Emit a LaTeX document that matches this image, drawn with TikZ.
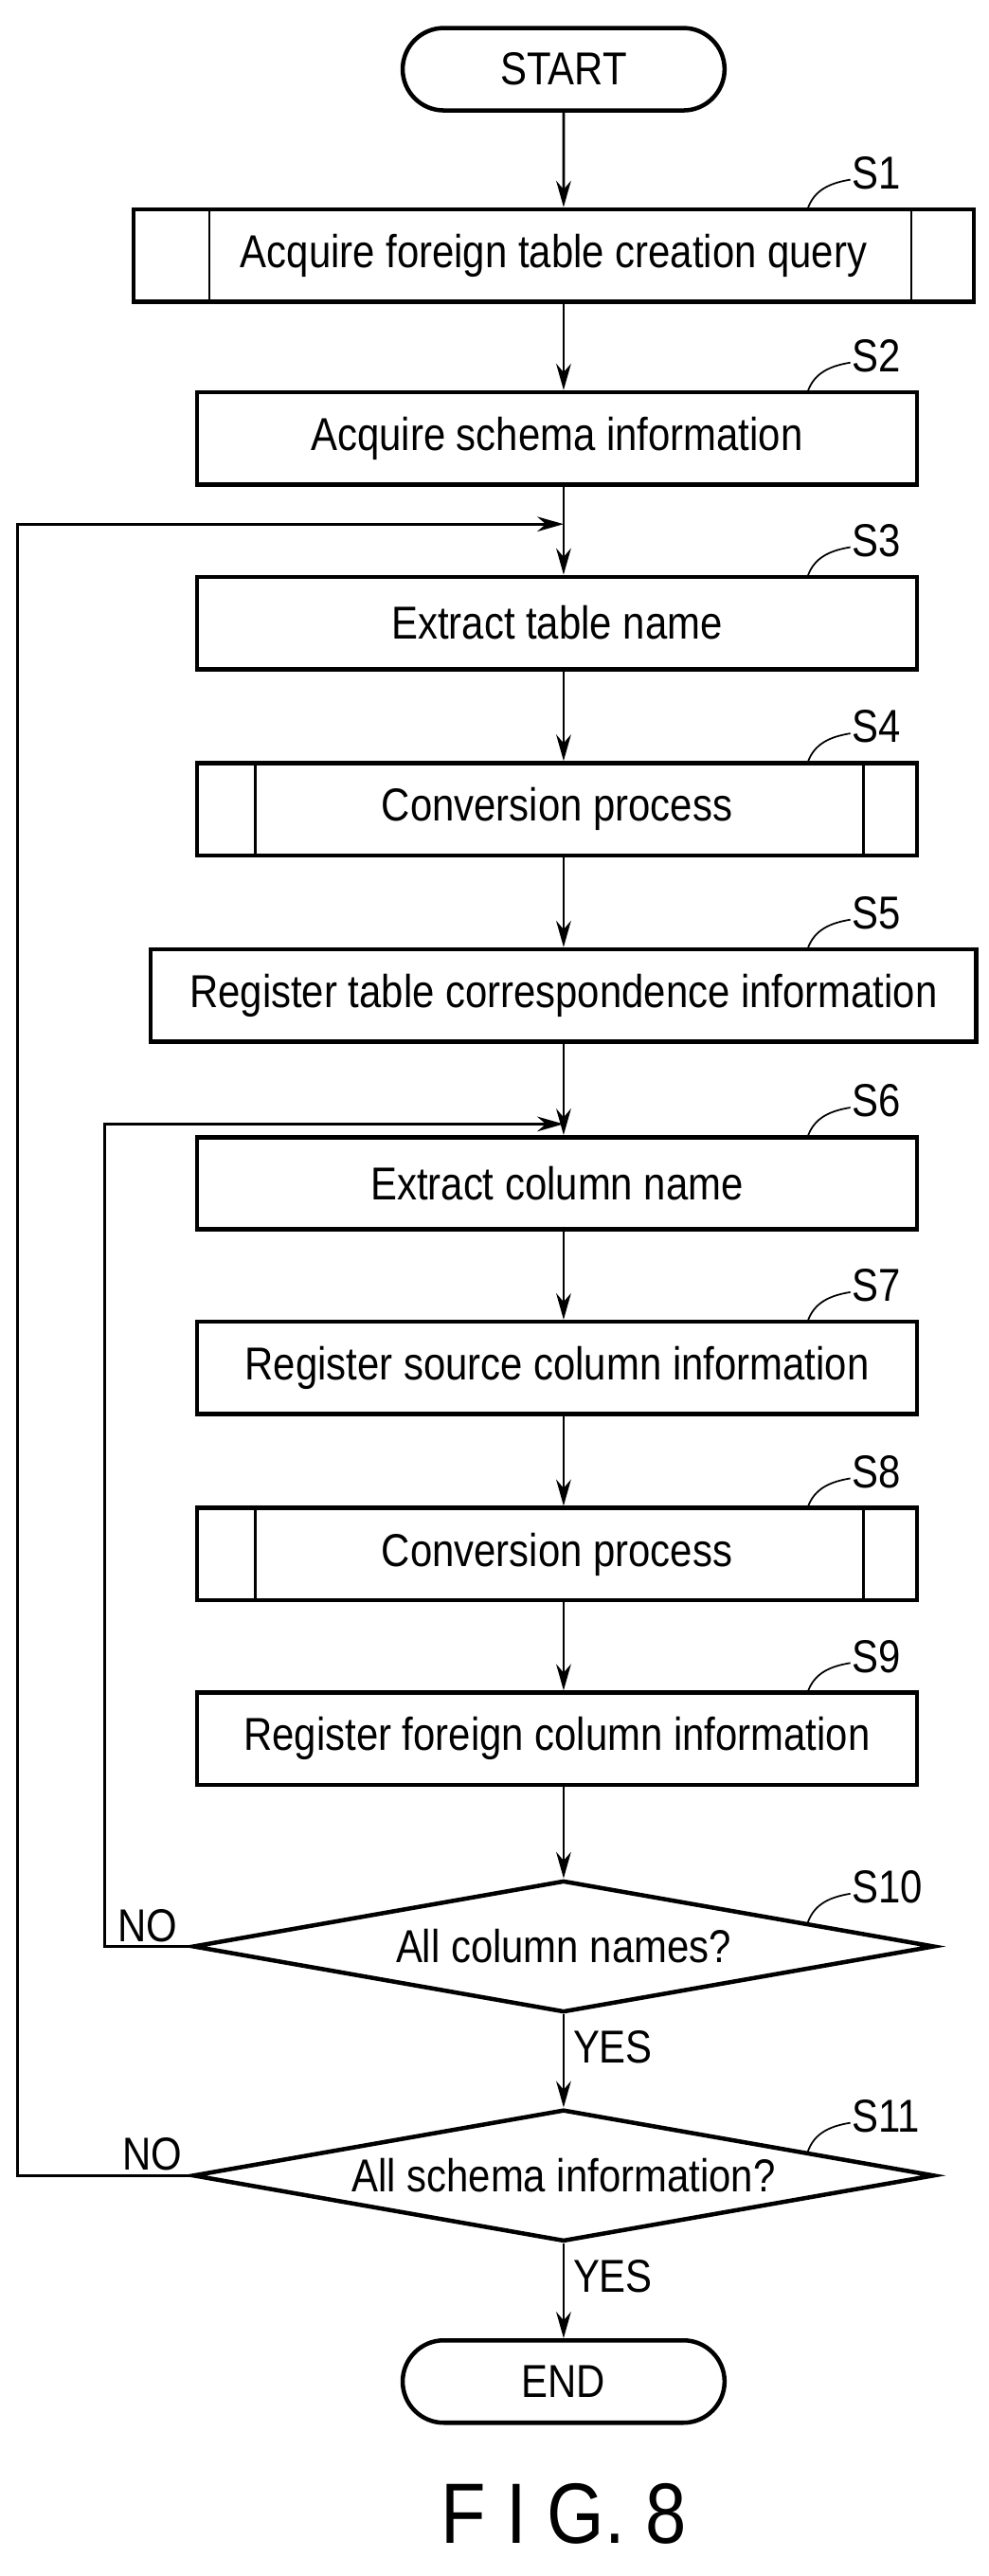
\documentclass[tikz,border=0pt]{standalone}
\usepackage{fontspec}
\setmainfont{Liberation Sans}[FakeStretch=0.86]
\usetikzlibrary{arrows.meta,shapes.geometric,shapes.misc,calc}

\tikzset{
  proc/.style={draw, line width=2.6pt, minimum height=56pt, inner sep=0pt, font=\fontsize{28}{32}\selectfont},
  term/.style={draw, line width=2.6pt, rounded rectangle, minimum width=202pt, minimum height=50pt, font=\fontsize{28}{32}\selectfont},
  test/.style={draw, line width=2.6pt, diamond, aspect=5.6, minimum width=450pt, minimum height=80pt, inner sep=0pt, font=\fontsize{28}{32}\selectfont},
  flow/.style={line width=1.6pt, -{Stealth[length=16pt,width=9pt]}},
  lbl/.style={font=\fontsize{28}{32}\selectfont, anchor=west, inner sep=0pt},
}
% leader line with step label
\newcommand{\stepmark}[3]{%
  \draw[line width=1pt] (#1) .. controls +(4,-12) and +(-12,2) .. ($(#1)+(26,-18)$);
  \node[lbl] (#2) at ($(#1)+(27,-22)$) {#3};}

\begin{document}
\begin{tikzpicture}[x=1pt,y=-1pt]
\useasboundingbox (0,0) rectangle (600,1563);

\node[term] (start) at (342,42) {START};
\node[proc, minimum width=510pt] (s1) at (336,155) {Acquire foreign table creation query};
\draw[line width=1.6pt] (127,127) -- (127,183) (553,127) -- (553,183);
\node[proc, minimum width=437pt] (s2) at (338,266) {Acquire schema information};
\node[proc, minimum width=437pt] (s3) at (338,378) {Extract table name};
\node[proc, minimum width=437pt] (s4) at (338,491) {Conversion process};
\draw[line width=1.6pt] (155,463) -- (155,519) (524,463) -- (524,519);
\node[proc, minimum width=501pt] (s5) at (342,604) {Register table correspondence information};
\node[proc, minimum width=437pt] (s6) at (338,718) {Extract column name};
\node[proc, minimum width=437pt] (s7) at (338,830) {Register source column information};
\node[proc, minimum width=437pt] (s8) at (338,943) {Conversion process};
\draw[line width=1.6pt] (155,915) -- (155,970) (524,915) -- (524,970);
\node[proc, minimum width=437pt] (s9) at (338,1055) {Register foreign column information};
\node[test] (s10) at (342,1181) {All column names?};
\node[test] (s11) at (342,1320) {All schema information?};
\node[term] (end) at (342,1445) {END};
\node[font=\fontsize{52}{60}\selectfont, inner sep=0pt] (fig) at (342,1525) {F I G. 8};

% loop merge points
\coordinate (m3) at (342,318);
\coordinate (m6) at (342,682);

\draw[flow] (start) -- (start|-s1.north);
\draw[flow] (s1.south-|start) -- (start|-s2.north);
\draw[line width=1.6pt] (s2.south-|start) -- (m3);
\draw[flow] (m3) -- (start|-s3.north);
\draw[flow] (s3.south-|start) -- (start|-s4.north);
\draw[flow] (s4.south-|start) -- (start|-s5.north);
\draw[line width=1.6pt] (s5.south-|start) -- (m6);
\draw[flow] (m6) -- (start|-s6.north);
\draw[flow] (s6.south-|start) -- (start|-s7.north);
\draw[flow] (s7.south-|start) -- (start|-s8.north);
\draw[flow] (s8.south-|start) -- (start|-s9.north);
\draw[flow] (s9.south-|start) -- (s10.north);
\draw[flow] (s10.south) -- node[lbl, pos=0.35, right=5pt] {YES} (s11.north);
\draw[flow] (s11.south) -- node[lbl, pos=0.35, right=5pt] {YES} (end.north);

\draw[flow] (s10.west) -- ++(-52,0) node[lbl, pos=0.5, above=2pt, anchor=south] {NO} |- (m6);
\draw[flow] (s11.west) -- ++(-105,0) node[lbl, pos=0.22, above=2pt, anchor=south] {NO} |- (m3);

\stepmark{490,127}{t1}{S1}
\stepmark{490,238}{t2}{S2}
\stepmark{490,350}{t3}{S3}
\stepmark{490,463}{t4}{S4}
\stepmark{490,576}{t5}{S5}
\stepmark{490,690}{t6}{S6}
\stepmark{490,802}{t7}{S7}
\stepmark{490,915}{t8}{S8}
\stepmark{490,1027}{t9}{S9}
\stepmark{490,1167}{t10}{S10}
\stepmark{490,1306}{t11}{S11}
\end{tikzpicture}
\end{document}
